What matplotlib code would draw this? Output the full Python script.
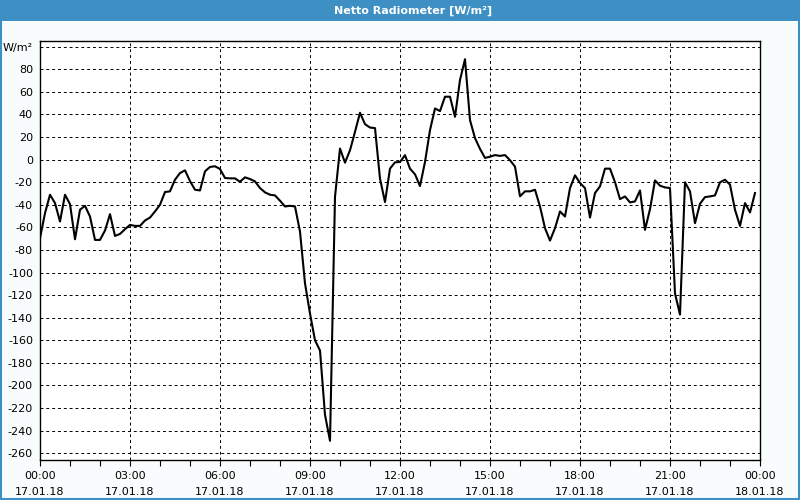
import numpy as np
import pandas as pd
import matplotlib
matplotlib.use("Agg")
import matplotlib.pyplot as plt
import matplotlib.dates as mdates
from matplotlib.patches import Rectangle

# Netto radiometer, 10-minute values from 17.01.18 00:00
start = "2018-01-17 00:00"
values = [-69.6, -47.4, -31.1, -38.5, -54.8, -31.1, -39.4, -70.5, -44.4, -40.9,
          -50.4, -71.1, -71.1, -62.8, -48.3, -67.6, -65.8, -61.6, -57.8, -58.7,
          -58.7, -53.9, -51.3, -45.9, -40.0, -28.7, -28.1, -17.8, -11.9, -9.5,
          -19.0, -26.7, -27.3, -10.4, -6.5, -5.9, -8.3, -16.3, -16.6, -16.6,
          -19.6, -15.7, -17.2, -19.3, -25.2, -29.0, -31.1, -31.7, -36.4, -41.5,
          -40.9, -41.5, -63.7, -109.6, -136.3, -160.0, -169.0, -226.0, -249.0, -33.0,
          9.8, -2.7, 8.3, 24.6, 41.5, 31.4, 28.4, 27.9, -16.9, -37.6,
          -8.0, -2.4, -2.1, 3.9, -8.0, -13.0, -23.4, -2.1, 26.1, 45.3,
          43.0, 55.7, 55.7, 37.9, 70.5, 88.9, 35.0, 19.0, 9.5, 1.5,
          2.6, 4.0, 3.3, 4.0, -0.5, -6.2, -32.5, -28.1, -28.1, -26.7,
          -41.5, -60.7, -71.7, -60.7, -45.9, -50.4, -25.2, -13.9, -20.7, -25.2,
          -51.3, -29.6, -23.7, -8.0, -8.0, -20.0, -35.0, -32.6, -37.9, -37.0,
          -27.3, -62.2, -43.9, -18.4, -23.1, -24.6, -25.2, -118.5, -137.2, -20.1,
          -28.1, -56.3, -39.1, -33.2, -32.6, -31.7, -20.1, -17.8, -22.2, -44.4,
          -58.7, -38.5, -46.8, -29.6]
yticks = list(range(-260, 101, 20))
ylabels = [str(v) for v in yticks[:-1]] + ["W/m²"]
title = "Netto Radiometer [W/m²]"

times = pd.date_range(start, periods=len(values), freq="10min")

fig = plt.figure(figsize=(8, 5), dpi=100, facecolor="#f9fcfc")

# window title bar and border
fig.patches.append(Rectangle((0, 1 - 21 / 500), 1, 21 / 500, transform=fig.transFigure,
                             facecolor="#3d8fc4", edgecolor="none", zorder=0))
fig.patches.append(Rectangle((0.001, 0.002), 0.998, 0.997, transform=fig.transFigure,
                             facecolor="none", edgecolor="#3d8fc4", lw=1.5, zorder=1))
fig.text(0.516, 1 - 10.5 / 500, title, color="white", fontsize=8, fontweight="bold",
         ha="center", va="center")

ax = fig.add_axes([40 / 800, 40 / 500, 720 / 800, 419.3 / 500])
ax.plot(times, values, color="black", lw=1.5, zorder=3)

ax.set_xlim(pd.Timestamp("2018-01-17"), pd.Timestamp("2018-01-18"))
ax.set_ylim(-266, 105.3)

ax.xaxis.set_major_locator(mdates.HourLocator(byhour=range(0, 24, 3)))
ax.xaxis.set_minor_locator(mdates.HourLocator())
ax.xaxis.set_major_formatter(mdates.DateFormatter("%H:%M\n%d.%m.%y"))
ax.set_yticks(yticks)
ax.set_yticklabels(ylabels)

ax.tick_params(axis="x", which="both", direction="out", length=4, width=0.8,
               labelsize=8, pad=4)
ax.tick_params(axis="y", length=0, labelsize=8, pad=5)
for lab in ax.get_xticklabels():
    lab.set_linespacing(1.75)

ax.grid(True, axis="y", color="black", lw=0.7, linestyle=(0, (3, 3)))
ax.grid(True, axis="x", which="major", color="black", lw=0.7, linestyle=(0, (3, 3)))
for s in ax.spines.values():
    s.set_linewidth(1.0)

fig.savefig("out.png", dpi=100, facecolor=fig.get_facecolor())
